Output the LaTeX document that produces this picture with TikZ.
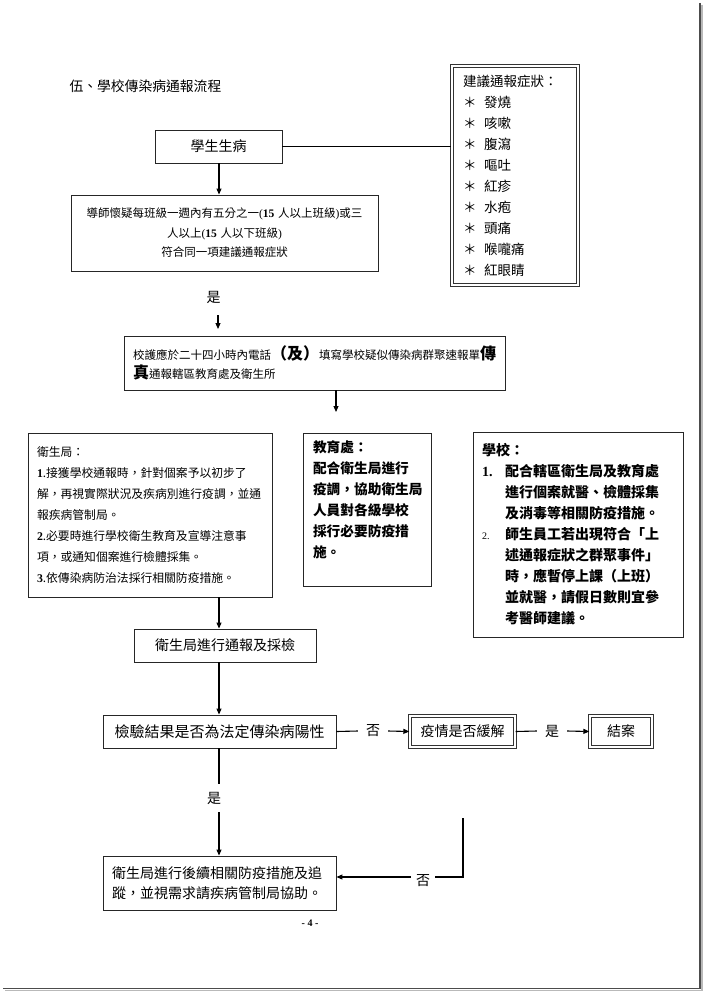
\documentclass[tikz,border=0pt]{standalone}
\usepackage{fontspec}
\setmainfont{Liberation Serif}
\newfontfamily\cjk{Noto Sans CJK TC}
\usetikzlibrary{arrows.meta}
\newcommand\tmsb[1]{{\rmfamily\bfseries #1}}
\tikzset{
  box/.style={draw=black!85, line width=0.9pt, inner sep=0pt, font=\cjk},
  dbox/.style={draw=black!80, line width=1.1pt, double=white, double distance=1.5pt, inner sep=0pt},
  lbl/.style={inner xsep=8pt, inner ysep=8pt, font=\cjk\fontsize{14}{16}\selectfont},
  conn/.style={line width=1.1pt, draw=black},
  arr/.style={conn, -{Triangle[length=6pt,width=5pt]}},
}
\begin{document}
\begin{tikzpicture}[x=1pt,y=-1pt]
\fill[white] (0,0) rectangle (704,992);
\useasboundingbox (0,0) rectangle (704,992);

% page frame shadow
\draw[gray!55, line width=1.6pt] (702.2,5) -- (702.2,990.6) -- (5,990.6);
\draw[black!70, line width=1.2pt] (700,3) -- (700,988.6) -- (3,988.6);

\coordinate (col) at (219,0);

\node[anchor=west, font=\cjk\fontsize{13.8}{16}\selectfont] (title) at (66,86) {伍、學校傳染病通報流程};

\node[box, minimum width=127pt, minimum height=33pt, font=\cjk\fontsize{14}{16}\selectfont] (sick) at (218.5,146.5) {學生生病};

\node[box, minimum width=307pt, minimum height=76pt, text width=300pt, align=center, font=\cjk\fontsize{11.5}{19.5}\selectfont] (teacher) at (224.5,233)
 {導師懷疑每班級一週內有五分之一{\rmfamily(\tmsb{15} }人以上班級{\rmfamily)}或三\\人以上{\rmfamily(\tmsb{15} }人以下班級{\rmfamily)}\\符合同一項建議通報症狀};

\node[dbox, minimum width=126.4pt, minimum height=219.4pt, text width=104pt, align=left, font=\cjk\fontsize{13.5}{21}\selectfont] (symp) at (515,175.5)
 {建議通報症狀：\\＊\hspace{7.5pt}發燒\\＊\hspace{7.5pt}咳嗽\\＊\hspace{7.5pt}腹瀉\\＊\hspace{7.5pt}嘔吐\\＊\hspace{7.5pt}紅疹\\＊\hspace{7.5pt}水疱\\＊\hspace{7.5pt}頭痛\\＊\hspace{7.5pt}喉嚨痛\\＊\hspace{7.5pt}紅眼睛};

\node[lbl] (yes1) at (213.5,297) {是};
\coordinate (a1s) at (218,315);
\coordinate (a1e) at (218,329);

\node[box, minimum width=381pt, minimum height=54pt, text width=363pt, align=left, font=\cjk\fontsize{11.5}{19}\selectfont] (nurse) at (314.5,363)
 {校護應於二十四小時內電話{\bfseries\fontsize{16}{19}\selectfont （及）}填寫學校疑似傳染病群聚速報單{\bfseries\fontsize{16}{19}\selectfont 傳}\\{\bfseries\fontsize{16}{19}\selectfont 真}通報轄區教育處及衛生所};

\coordinate (a2e) at (336,412);

\node[box, minimum width=244pt, minimum height=164pt, text width=226pt, align=left, font=\cjk\fontsize{11.8}{21}\selectfont] (health) at (150,515)
 {衛生局：\\\tmsb{1}.接獲學校通報時，針對個案予以初步了\\解，再視實際狀況及疾病別進行疫調，並通\\報疾病管制局。\\\tmsb{2}.必要時進行學校衛生教育及宣導注意事\\項，或通知個案進行檢體採集。\\\tmsb{3}.依傳染病防治法採行相關防疫措施。};

\node[box, minimum width=128pt, minimum height=153pt, text width=108pt, align=left, font=\cjk\bfseries\fontsize{13.7}{21}\selectfont] (edu) at (367,509.5)
 {教育處：\\配合衛生局進行\\疫調，協助衛生局\\人員對各級學校\\採行必要防疫措\\施。\rule[-20pt]{0pt}{20pt}};

\node[box, minimum width=210pt, minimum height=205pt, text width=192pt, align=left, font=\cjk\bfseries\fontsize{14}{21}\selectfont] (school) at (578,534.5)
 {學校：\\\makebox[23pt][l]{\tmsb{1.}}配合轄區衛生局及教育處\\\hspace*{23pt}進行個案就醫、檢體採集\\\hspace*{23pt}及消毒等相關防疫措施。\\\makebox[23pt][l]{{\rmfamily\mdseries\fontsize{10}{21}\selectfont 2.}}師生員工若出現符合「上\\\hspace*{23pt}述通報症狀之群聚事件」\\\hspace*{23pt}時，應暫停上課（上班）\\\hspace*{23pt}並就醫，請假日數則宜參\\\hspace*{23pt}考醫師建議。};

\node[box, minimum width=182pt, minimum height=33pt, font=\cjk\fontsize{14}{16}\selectfont] (report) at (225,645.5) {衛生局進行通報及採檢};

\node[box, minimum width=233pt, minimum height=33pt, font=\cjk\fontsize{15}{16}\selectfont] (test) at (219.5,731.5) {檢驗結果是否為法定傳染病陽性};

\node[lbl] (no1) at (373,731) {否};
\node[dbox, minimum width=105.3pt, minimum height=31.3pt, font=\cjk\fontsize{14}{16}\selectfont] (relief) at (462.5,731.5) {疫情是否緩解};
\node[lbl] (yes2) at (552,731) {是};
\node[dbox, minimum width=62.3pt, minimum height=31.3pt, font=\cjk\fontsize{14}{16}\selectfont] (close) at (621,731.5) {結案};

\node[lbl] (yes3) at (214,798) {是};

\node[box, minimum width=233pt, minimum height=54pt, text width=215pt, align=left, font=\cjk\fontsize{14}{20}\selectfont] (follow) at (219.5,883)
 {衛生局進行後續相關防疫措施及追\\蹤，並視需求請疾病管制局協助。};

\node[lbl, inner xsep=5pt] (no2) at (423,881) {否};
\coordinate (lt) at (463,818);
\coordinate (lc) at (463,877);

\node[font=\rmfamily\bfseries\fontsize{10}{12}\selectfont] (pg) at (310,923) {- 4 -};

% connectors
\draw[conn] (sick.east) -- (sick.east -| symp.west);
\draw[arr] (sick.south -| col) -- (teacher.north -| col);
\draw[arr] (a1s) -- (a1e);
\draw[arr] (nurse.south -| a2e) -- (a2e);
\draw[arr] (health.south -| col) -- (report.north -| col);
\draw[arr] (report.south -| col) -- (test.north -| col);
\draw[conn] (test.east) -- (no1.west);
\draw[arr] (no1.east) -- (relief.west);
\draw[conn] (relief.east) -- (yes2.west);
\draw[arr] (yes2.east) -- (close.west);
\draw[conn] (test.south -| col) -- (yes3.north -| col);
\draw[arr] (yes3.south -| col) -- (follow.north -| col);
\draw[conn] (lt) -- (lc) -- (lc -| no2.east);
\draw[arr] (lc -| no2.west) -- (lc -| follow.east);
\end{tikzpicture}
\end{document}
